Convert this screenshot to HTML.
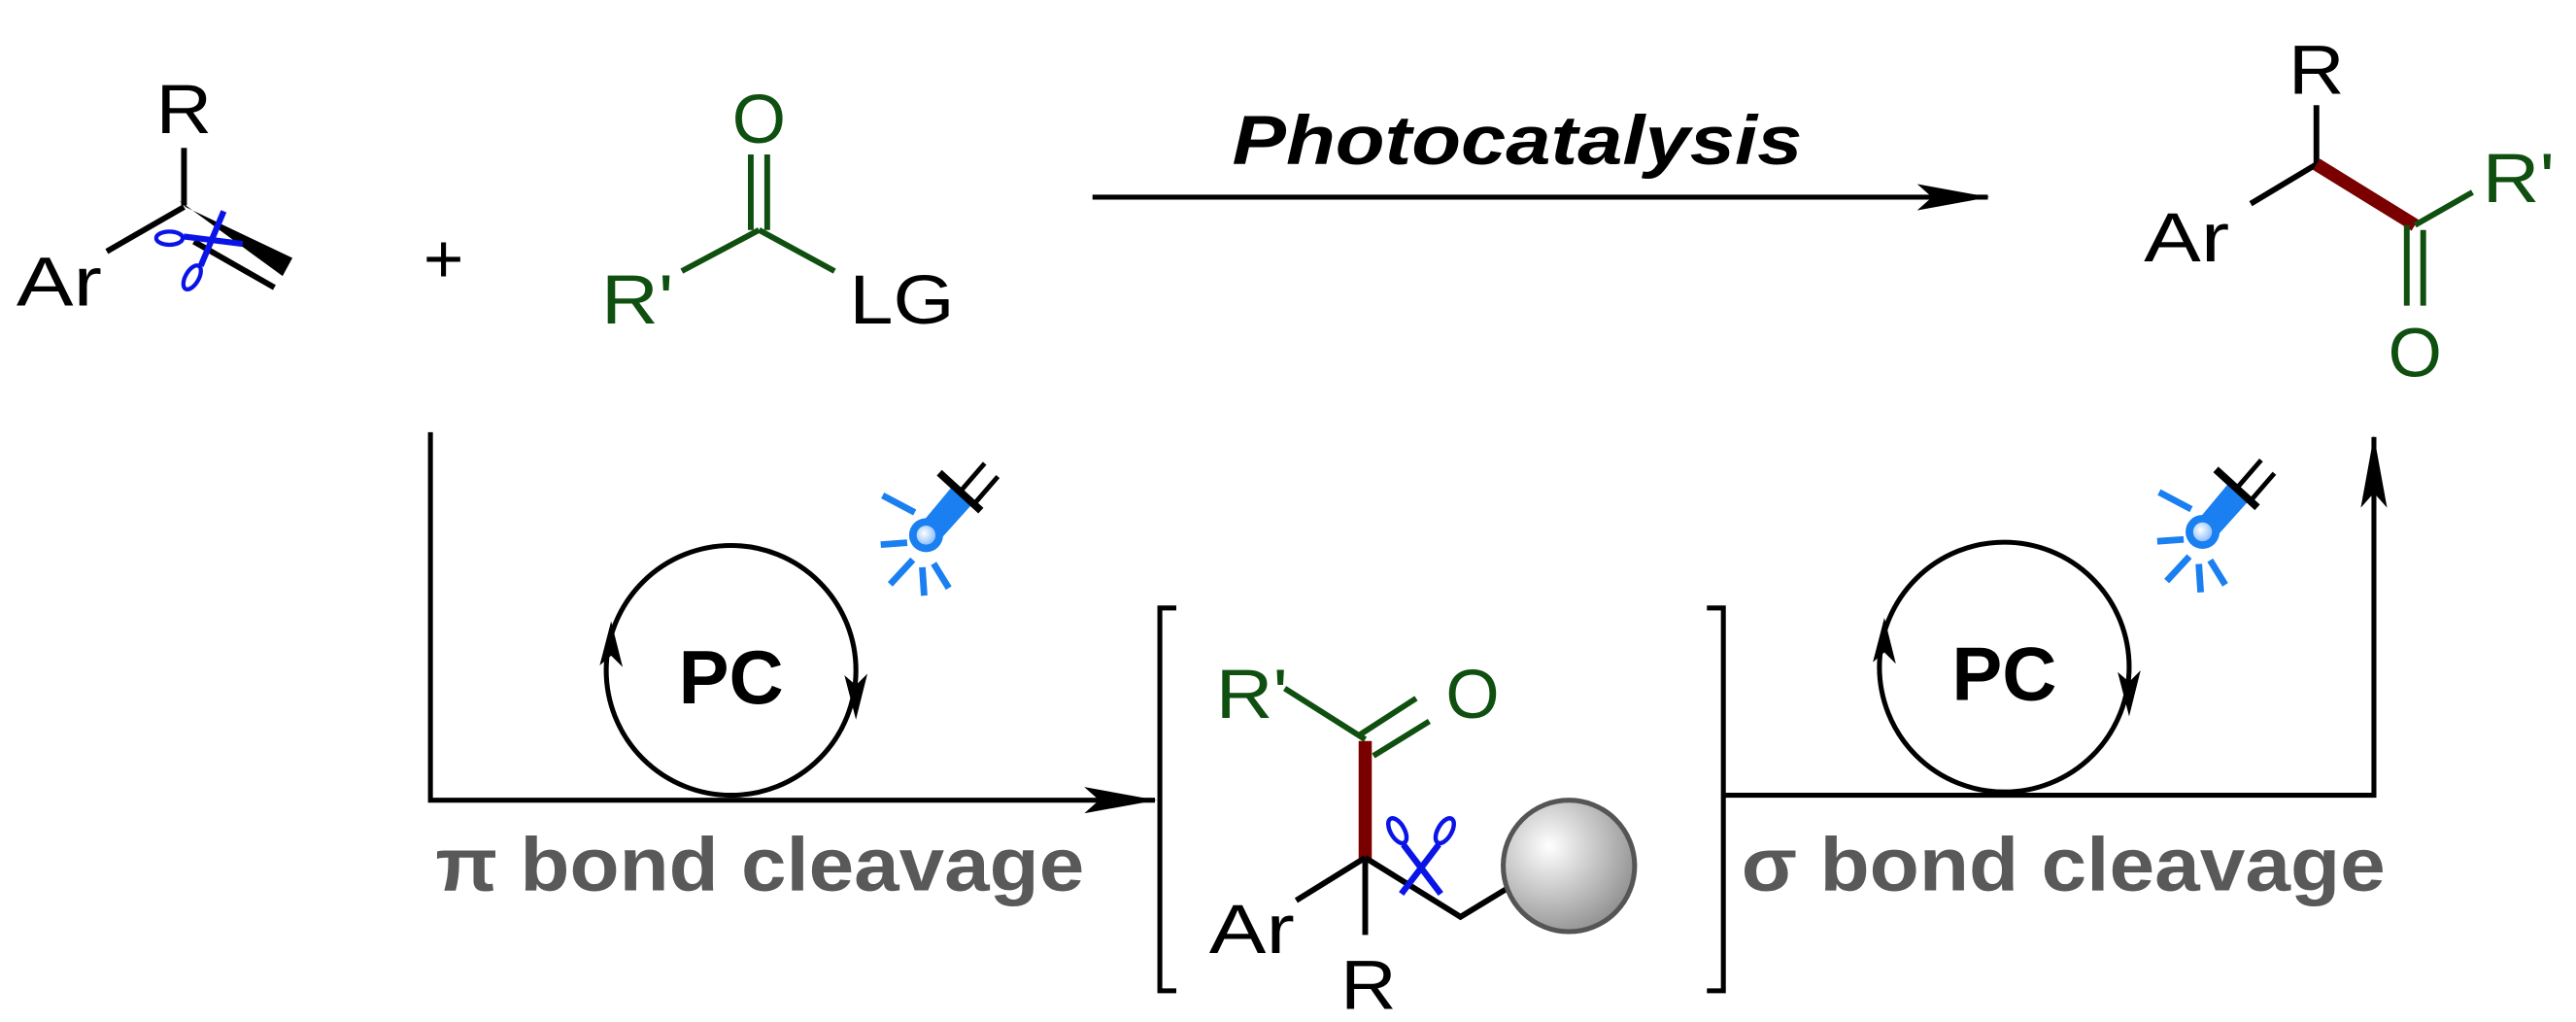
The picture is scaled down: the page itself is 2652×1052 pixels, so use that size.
<!DOCTYPE html>
<html><head><style>html,body{margin:0;padding:0;background:#fff;}svg{display:block}</style></head>
<body>
<svg width="2652" height="1052" viewBox="0 0 1568 622" xmlns="http://www.w3.org/2000/svg" font-family="Liberation Sans, Arial, sans-serif">
<defs>
<marker id="ah" viewBox="0 0 44 16" refX="43" refY="8" markerWidth="44" markerHeight="16" markerUnits="userSpaceOnUse" orient="auto"><path d="M0,0 L44,8 L0,16 L9,8 Z" fill="#000"/></marker>
<radialGradient id="sph" cx="0.35" cy="0.35" r="0.75"><stop offset="0" stop-color="#fff"/><stop offset="1" stop-color="#8a8a8a"/></radialGradient>
<radialGradient id="bulb" cx="0.4" cy="0.4" r="0.7"><stop offset="0" stop-color="#fff"/><stop offset="1" stop-color="#7fb8ff"/></radialGradient>
<g id="lamp">
 <g stroke="#1a7ff0" stroke-width="3.5">
  <line x1="-25" y1="-23" x2="-8" y2="-14"/>
  <line x1="-26" y1="3" x2="-12" y2="2"/>
  <line x1="-21" y1="24" x2="-9" y2="11"/>
  <line x1="-3" y1="30" x2="-4" y2="15"/>
  <line x1="10" y1="26" x2="2" y2="13"/>
 </g>
 <path d="M-8,-4 L12,-28 L22,-18 L4,2 Z" fill="#1a7ff0"/>
 <circle cx="-2" cy="-2" r="9" fill="#1a7ff0"/>
 <circle cx="-2" cy="-2" r="5" fill="url(#bulb)"/>
 <line x1="5" y1="-35" x2="27" y2="-15" stroke="#000" stroke-width="4"/>
 <line x1="16" y1="-25" x2="29" y2="-40" stroke="#000" stroke-width="2.5"/>
 <line x1="23" y1="-18" x2="36" y2="-33" stroke="#000" stroke-width="2.5"/>
</g>
<g id="sc" fill="none" stroke="#0a14e6" stroke-width="2.2">
 <ellipse cx="-12" cy="-12" rx="3.5" ry="7" transform="rotate(-30 -12 -12)"/>
 <ellipse cx="12" cy="-12" rx="3.5" ry="7" transform="rotate(30 12 -12)"/>
 <path d="M-9,-5 L10,20" stroke-width="3.2"/>
 <path d="M9,-5 L-10,20" stroke-width="3.2"/>
</g>
<g id="cyc">
 <circle cx="0" cy="0" r="76" fill="none" stroke="#000" stroke-width="3"/>
 <path d="M-73,-30 L-80,-3 L-73,-9 L-66,-2 Z" fill="#000"/>
 <path d="M76,30 L69,3 L76,9 L83,2 Z" fill="#000"/>
 <text x="0" y="20" font-size="46" font-weight="bold" text-anchor="middle">PC</text>
</g>
</defs>

<!-- left alkene -->
<g stroke="#000" stroke-width="3.5" fill="none">
 <line x1="112" y1="90" x2="112" y2="125"/>
 <line x1="112" y1="126" x2="65" y2="153"/>
 <line x1="118" y1="147" x2="167" y2="175"/>
</g>
<path d="M109,122 L113,126 L178,157 L172,168 Z" fill="#000"/>
<text x="112" y="81" font-size="42" text-anchor="middle" textLength="34" lengthAdjust="spacingAndGlyphs">R</text>
<text x="10" y="186" font-size="42" textLength="52" lengthAdjust="spacingAndGlyphs">Ar</text>
<use href="#sc" transform="translate(122,150) rotate(-120) scale(1.15)"/>

<text x="270" y="172" font-size="42" text-anchor="middle">+</text>

<!-- acyl -->
<g stroke="#0f4f0f" stroke-width="3.5" fill="none">
 <line x1="457" y1="94" x2="457" y2="140"/>
 <line x1="467" y1="94" x2="467" y2="140"/>
 <line x1="415" y1="165" x2="462" y2="140"/>
 <line x1="462" y1="140" x2="508" y2="165"/>
</g>
<text x="462" y="87" font-size="42" fill="#0f4f0f" text-anchor="middle">O</text>
<text x="366" y="197" font-size="42" fill="#0f4f0f" textLength="44" lengthAdjust="spacingAndGlyphs">R'</text>
<text x="517" y="197" font-size="42" textLength="64" lengthAdjust="spacingAndGlyphs">LG</text>

<!-- top arrow -->
<line x1="665" y1="120" x2="1210" y2="120" stroke="#000" stroke-width="3" marker-end="url(#ah)"/>
<text x="750" y="100" font-size="42" font-weight="bold" font-style="italic" textLength="347" lengthAdjust="spacingAndGlyphs">Photocatalysis</text>

<!-- product -->
<g stroke="#000" stroke-width="3.5" fill="none">
 <line x1="1410" y1="64" x2="1410" y2="100"/>
 <line x1="1410" y1="100" x2="1370" y2="124"/>
</g>
<line x1="1410" y1="100" x2="1470" y2="137" stroke="#7a0000" stroke-width="8"/>
<g stroke="#0f4f0f" stroke-width="3.5">
 <line x1="1465" y1="137" x2="1465" y2="186"/>
 <line x1="1475" y1="140" x2="1475" y2="186"/>
 <line x1="1470" y1="137" x2="1505" y2="117"/>
</g>
<text x="1410" y="57" font-size="42" text-anchor="middle" textLength="34" lengthAdjust="spacingAndGlyphs">R</text>
<text x="1305" y="159" font-size="42" textLength="52" lengthAdjust="spacingAndGlyphs">Ar</text>
<text x="1511" y="123" font-size="42" fill="#0f4f0f" textLength="44" lengthAdjust="spacingAndGlyphs">R'</text>
<text x="1470" y="229" font-size="42" fill="#0f4f0f" text-anchor="middle">O</text>

<!-- flow lines -->
<polyline points="262,263 262,487 703,487" fill="none" stroke="#000" stroke-width="3" marker-end="url(#ah)"/>
<polyline points="1050,484 1445,484 1445,266" fill="none" stroke="#000" stroke-width="3" marker-end="url(#ah)"/>

<!-- PC cycles -->
<use href="#cyc" transform="translate(445,408)"/>
<use href="#lamp" transform="translate(566,328) scale(1.15)"/>
<use href="#cyc" transform="translate(1220,406)"/>
<use href="#lamp" transform="translate(1343,326) scale(1.15)"/>

<text x="265" y="542" font-size="46" font-weight="bold" fill="#595959" textLength="395" lengthAdjust="spacingAndGlyphs">π bond cleavage</text>
<text x="1060" y="542" font-size="46" font-weight="bold" fill="#595959" textLength="392" lengthAdjust="spacingAndGlyphs">σ bond cleavage</text>

<!-- brackets -->
<polyline points="716,370 706,370 706,603 716,603" fill="none" stroke="#000" stroke-width="3"/>
<polyline points="1039,370 1049,370 1049,603 1039,603" fill="none" stroke="#000" stroke-width="3"/>

<!-- middle molecule -->
<g stroke="#0f4f0f" stroke-width="3.5">
 <line x1="782" y1="419" x2="831" y2="450"/>
 <line x1="828" y1="447" x2="862" y2="425"/>
 <line x1="836" y1="460" x2="870" y2="439"/>
</g>
<line x1="831" y1="451" x2="831" y2="523" stroke="#7a0000" stroke-width="8"/>
<g stroke="#000" stroke-width="3.5" fill="none">
 <line x1="831" y1="522" x2="789" y2="548"/>
 <line x1="831" y1="522" x2="831" y2="569"/>
 <polyline points="831,522 889,558 917,541"/>
</g>
<circle cx="955" cy="527" r="40" fill="url(#sph)" stroke="#555" stroke-width="3"/>
<text x="740" y="437" font-size="42" fill="#0f4f0f" textLength="44" lengthAdjust="spacingAndGlyphs">R'</text>
<text x="880" y="437" font-size="42" fill="#0f4f0f">O</text>
<text x="736" y="580" font-size="42" textLength="52" lengthAdjust="spacingAndGlyphs">Ar</text>
<text x="833" y="614" font-size="42" text-anchor="middle" textLength="34" lengthAdjust="spacingAndGlyphs">R</text>
<use href="#sc" transform="translate(865,520) scale(1.2)"/>
</svg>
</body></html>
